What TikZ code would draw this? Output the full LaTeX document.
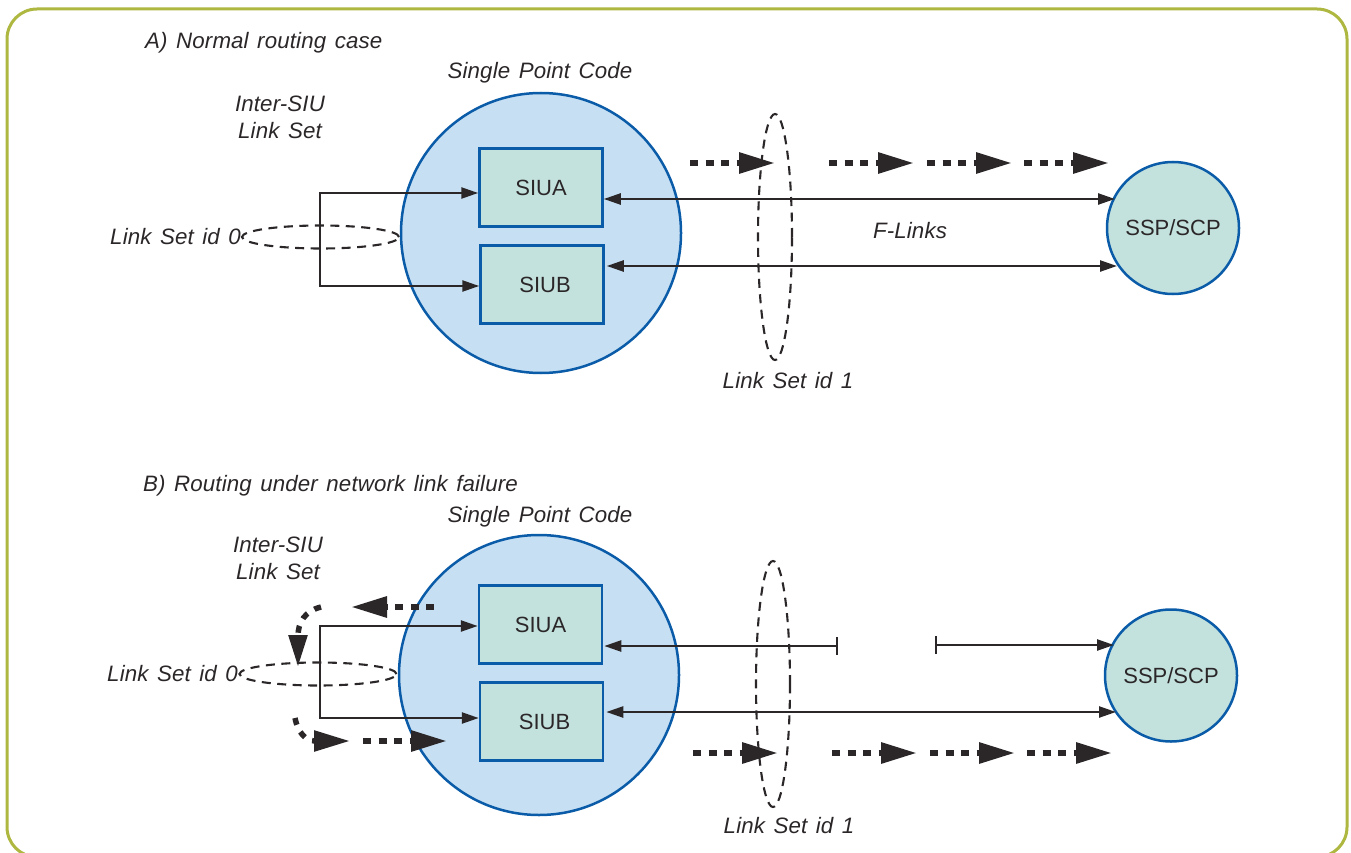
\documentclass[tikz,border=0pt]{standalone}
\usepackage{fontspec}
\setmainfont{Liberation Sans}
\newfontfamily\lblfont[WordSpace=1.35,LetterSpace=0.6,ItalicFont={Liberation Sans Italic}]{Liberation Sans}
\usetikzlibrary{arrows.meta,shapes.geometric}
\definecolor{framecol}{HTML}{AEB740}
\definecolor{bluefill}{HTML}{C6DFF3}
\definecolor{bluestroke}{HTML}{0B5CA8}
\definecolor{tealfill}{HTML}{C3E1DD}
\definecolor{inkcol}{HTML}{2B2728}
\tikzset{
  bigcircle/.style={circle,draw=bluestroke,fill=bluefill,line width=2.5pt,minimum size=280pt,inner sep=0pt},
  sspcircle/.style={circle,draw=bluestroke,fill=tealfill,line width=2.5pt,minimum size=132pt,inner sep=0pt,text=inkcol,font=\fontsize{22}{26}\selectfont},
  siubox/.style={rectangle,draw=bluestroke,fill=tealfill,line width=2.5pt,minimum width=123pt,minimum height=78pt,inner sep=0pt,text=inkcol,font=\fontsize{22}{26}\selectfont},
  setring/.style={ellipse,draw=inkcol,line width=2.1pt,dash pattern=on 9pt off 6.5pt,inner sep=0pt},
  lbl/.style={text=inkcol,font=\lblfont\fontsize{22.3}{26}\selectfont\itshape,inner sep=0pt,text height=16pt,text depth=5pt},
  lbltwo/.style={text=inkcol,font=\lblfont\fontsize{22.3}{26}\selectfont\itshape,inner sep=0pt,align=center},
  link/.style={draw=inkcol,line width=2.4pt},
  linkto/.style={link,-{Triangle[length=17pt,width=11pt]}},
  linkboth/.style={link,{Triangle[length=17pt,width=11pt]}-{Triangle[length=17pt,width=11pt]}},
  linkbar/.style={link,{Triangle[length=17pt,width=11pt]}-{Bar[width=18pt,line width=2pt]}},
  barlink/.style={link,{Bar[width=18pt,line width=2pt]}-{Triangle[length=17pt,width=11pt]}},
  flow/.style={draw=inkcol,line width=6pt,dash pattern=on 8pt off 7.5pt,-{Triangle[length=36pt,width=20pt]}},
}
\begin{document}
\begin{tikzpicture}[x=1pt,y=-1pt]
\useasboundingbox (0,0) rectangle (1351,853);
\clip (0,0) rectangle (1351,853);
\draw[framecol,line width=3pt,rounded corners=30pt] (7,9) rectangle (1347,857);

% --- A
\node[lbl,anchor=west] (titleA) at (145,43) {A) Normal routing case};
\node[lbl] (spcA) at (540,73.5) {Single Point Code};
\node[lbltwo] (interA) at (280,117) {Inter-SIU\\[1pt]Link Set};
\node[bigcircle] (bigA) at (541,233) {};
\node[siubox] (siuaA) at (541,187.5) {SIUA};
\node[siubox] (siubA) at (542,284.5) {\hspace*{6pt}SIUB};
\node[sspcircle] (sspA) at (1173,228) {SSP/SCP};
\node[setring,minimum width=157pt,minimum height=23pt] (ring0A) at (320.5,237) {};
\node[setring,minimum width=34pt,minimum height=246pt] (ring1A) at (775,237) {};
\node[lbl,anchor=east] (id0A) at (241,238.5) {Link Set id 0};
\node[lbl] (id1A) at (788,382.5) {Link Set id 1};
\node[lbl] (flinks) at (910,232.5) {F-Links};

\coordinate (jaA) at (320,193);
\coordinate (jbA) at (320,286);
\draw[link] (jaA) -- (jbA);
\draw[linkto] (319,193) -- (jaA -| siuaA.west);
\draw[linkto] (319,286) -- (jbA -| siubA.west);
\coordinate (faA) at (1115,199);
\coordinate (fbA) at (1117,266);
\draw[linkboth] (faA -| siuaA.east) -- (faA);
\draw[linkboth] ([xshift=2pt]fbA -| siubA.east) -- (fbA);

\coordinate (a1s) at (690,163); \coordinate (a1e) at (775,163);
\coordinate (a2s) at (829,163); \coordinate (a2e) at (914,163);
\coordinate (a3s) at (927,163); \coordinate (a3e) at (1012,163);
\coordinate (a4s) at (1024,163); \coordinate (a4e) at (1109,163);
\draw[flow] (a1s) -- (a1e);
\draw[flow] (a2s) -- (a2e);
\draw[flow] (a3s) -- (a3e);
\draw[flow] (a4s) -- (a4e);

% --- B
\node[lbl,anchor=west] (titleB) at (143,485.5) {B) Routing under network link failure};
\node[lbl] (spcB) at (540,516.5) {Single Point Code};
\node[lbltwo] (interB) at (278,558) {Inter-SIU\\[1pt]Link Set};
\node[bigcircle] (bigB) at (539,675) {};
\node[siubox] (siuaB) at (540.5,624.5) {SIUA};
\node[siubox] (siubB) at (541.5,721.5) {\hspace*{6pt}SIUB};
\node[sspcircle] (sspB) at (1171,675.5) {SSP/SCP};
\node[setring,minimum width=157pt,minimum height=23pt] (ring0B) at (318,674) {};
\node[setring,minimum width=34pt,minimum height=246pt] (ring1B) at (773,684) {};
\node[lbl,anchor=east] (id0B) at (238,675.5) {Link Set id 0};
\node[lbl] (id1B) at (789,827.5) {Link Set id 1};

\coordinate (jaB) at (320,626);
\coordinate (jbB) at (320,718);
\draw[link] (jaB) -- (jbB);
\draw[linkto] (319,626) -- (jaB -| siuaB.west);
\draw[linkto] (319,718) -- (jbB -| siubB.west);
\coordinate (faB) at (838,646);
\coordinate (gaB) at (935,645);
\coordinate (hbB) at (1114,645);
\coordinate (fbB) at (1116,712);
\draw[linkbar] ([xshift=1pt]faB -| siuaB.east) -- (faB);
\draw[barlink] (gaB) -- (hbB);
\draw[linkboth] ([xshift=2pt]fbB -| siubB.east) -- (fbB);

\coordinate (b1s) at (693,753); \coordinate (b1e) at (778,753);
\coordinate (b2s) at (832,753); \coordinate (b2e) at (917,753);
\coordinate (b3s) at (930,753); \coordinate (b3e) at (1015,753);
\coordinate (b4s) at (1027,753); \coordinate (b4e) at (1112,753);
\draw[flow] (b1s) -- (b1e);
\draw[flow] (b2s) -- (b2e);
\draw[flow] (b3s) -- (b3e);
\draw[flow] (b4s) -- (b4e);

\coordinate (c1s) at (434,607); \coordinate (c1e) at (351,607);
\coordinate (c2s) at (321,607); \coordinate (c2e) at (298,667);
\coordinate (c3s) at (295,718); \coordinate (c3e) at (350,741);
\coordinate (c4s) at (363,741); \coordinate (c4e) at (447,741);
\draw[flow] (c1s) -- (c1e);
\draw[flow,-{Triangle[length=32pt,width=18pt]},line width=5.5pt,dash pattern=on 7pt off 8pt] (c2s) .. controls (305,611) and (298,622) .. (c2e);
\draw[flow,line width=5.5pt,dash pattern=on 7pt off 8pt] (c3s) .. controls (298,733) and (306,741) .. (c3e);
\draw[flow] (c4s) -- (c4e);
\end{tikzpicture}
\end{document}
